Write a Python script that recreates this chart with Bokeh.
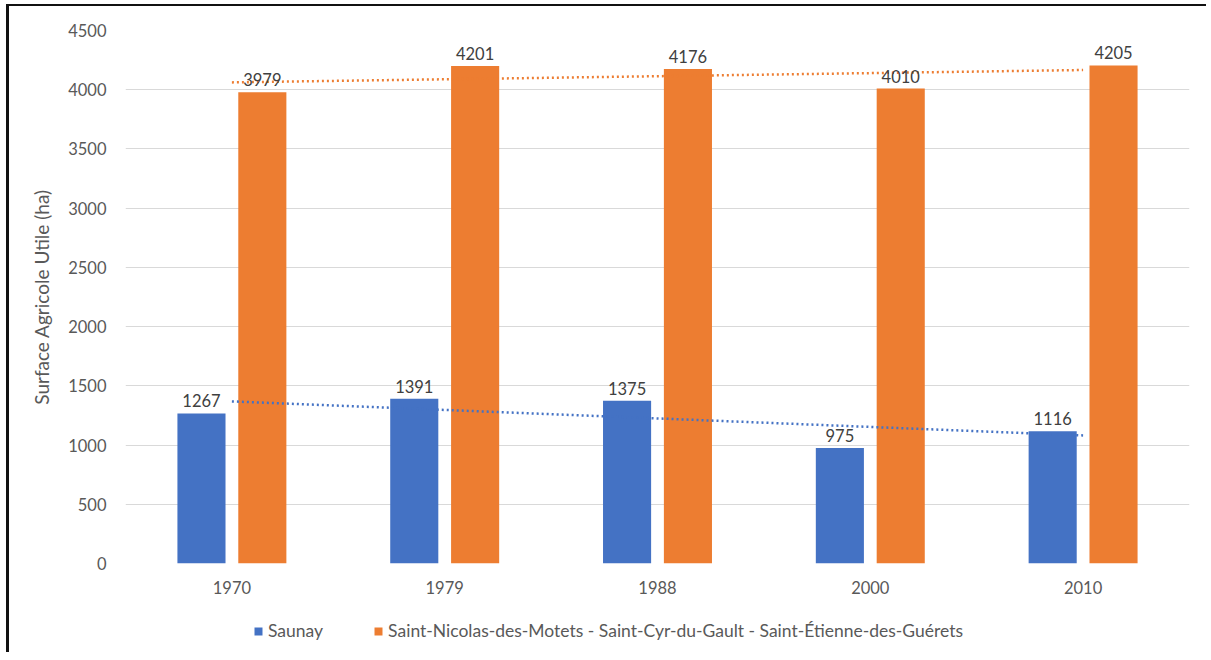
from bokeh.plotting import figure
from bokeh.layouts import column
from bokeh.models import (ColumnDataSource, Range1d, FixedTicker, Legend, LegendItem, LabelSet)
from bokeh.core.properties import value
from bokeh.embed import file_html
from bokeh.resources import INLINE
import numpy as np

years = ["1970", "1979", "1988", "2000", "2010"]
saunay = [1267, 1391, 1375, 975, 1116]
autres = [3979, 4201, 4176, 4010, 4205]
series_names = ["Saunay", "Saint-Nicolas-des-Motets - Saint-Cyr-du-Gault - Saint-Étienne-des-Guérets"]
y_ticks = [0, 500, 1000, 1500, 2000, 2500, 3000, 3500, 4000, 4500]

BLUE = "#4472C4"
ORANGE = "#ED7D31"
FONT = "Lato"
TXT = "#595959"
FRAME = "2px solid #111"

W, H1, H2 = 1200, 602, 46
idx = np.arange(len(years))
centers = idx + 0.5
off = 0.143
bw = 0.226

p = figure(width=W, height=H1, output_backend="svg", toolbar_location=None,
           x_range=Range1d(0, len(years)), y_range=Range1d(0, 4500),
           min_border_left=116, min_border_right=W - 1180, min_border_top=24, min_border_bottom=H1 - 557)
p.styles = {"border-top": FRAME, "border-left": "3px solid #111"}
p.margin = (4, 0, 0, 6)
p.outline_line_color = None
p.background_fill_color = "white"

src_b = ColumnDataSource(dict(x=centers - off, top=saunay, lab=[str(v) for v in saunay]))
src_o = ColumnDataSource(dict(x=centers + off, top=autres, lab=[str(v) for v in autres]))

rb = p.vbar(x="x", top="top", width=bw, source=src_b, color=BLUE, line_color=None)
ro = p.vbar(x="x", top="top", width=bw, source=src_o, color=ORANGE, line_color=None)

# linear trendlines (Excel style) computed from the series
for vals, col in ((saunay, BLUE), (autres, ORANGE)):
    k = np.arange(len(vals))
    a, b = np.polyfit(k, np.array(vals, dtype=float), 1)
    p.line([centers[0], centers[-1]], [b, a * (len(vals) - 1) + b], line_color=col,
           line_width=2.5, line_dash="2 3")

for src in (src_b, src_o):
    p.add_layout(LabelSet(x="x", y="top", text="lab", source=src, y_offset=6,
                          text_align="center", text_baseline="bottom",
                          text_font=value(FONT), text_font_size="16.5px", text_color="#404040"))

p.xaxis.ticker = FixedTicker(ticks=list(centers))
p.xaxis.major_label_overrides = {float(c): y for c, y in zip(centers, years)}
p.yaxis.ticker = FixedTicker(ticks=y_ticks)
for ax in (p.xaxis, p.yaxis):
    ax.axis_line_color = None
    ax.major_tick_line_color = None
    ax.minor_tick_line_color = None
    ax.major_label_text_font = FONT
    ax.major_label_text_font_size = "16.5px"
    ax.major_label_text_color = TXT
p.xaxis.major_label_standoff = 11
p.yaxis.major_label_standoff = 13
p.yaxis.axis_label = "Surface Agricole Utile (ha)"
p.yaxis.axis_label_text_font = FONT
p.yaxis.axis_label_text_font_size = "19px"
p.yaxis.axis_label_text_font_style = "normal"
p.yaxis.axis_label_text_color = TXT
p.yaxis.axis_label_standoff = 12

p.xgrid.grid_line_color = None
p.ygrid.grid_line_color = "#D9D9D9"
p.ygrid.grid_line_width = 1

# legend strip below the chart (its frame is aligned with the chart's frame)
lf = figure(width=W, height=H2, output_backend="svg", toolbar_location=None,
            x_range=Range1d(0, 1), y_range=Range1d(0, 1),
            x_axis_location=None, y_axis_location=None,
            min_border_left=0, min_border_right=0, min_border_top=0, min_border_bottom=0)
lf.styles = {"border-left": "3px solid #111"}
lf.margin = (0, 0, 0, 6)
lf.xgrid.grid_line_color = None
lf.ygrid.grid_line_color = None
lf.outline_line_color = None
lf.background_fill_color = "white"
lf.border_fill_color = "white"
# zero-height stand-ins so that the legend can show the series colours
lb = lf.vbar(x=[0.5], top=[0], bottom=[0], width=0.1, color=BLUE, line_color=None)
lo = lf.vbar(x=[0.5], top=[0], bottom=[0], width=0.1, color=ORANGE, line_color=None)

legend = Legend(items=[LegendItem(label=series_names[0], renderers=[lb]),
                       LegendItem(label=series_names[1], renderers=[lo])],
                orientation="horizontal", location=(128, 11),
                border_line_color=None, background_fill_alpha=0,
                glyph_width=10, glyph_height=10, label_standoff=5, spacing=50,
                label_text_font=FONT, label_text_font_size="17.5px", label_text_color=TXT,
                margin=0, padding=4)
lf.add_layout(legend, "center")

layout = column(p, lf, spacing=0)
open("out.html", "w").write(file_html(layout, INLINE))
